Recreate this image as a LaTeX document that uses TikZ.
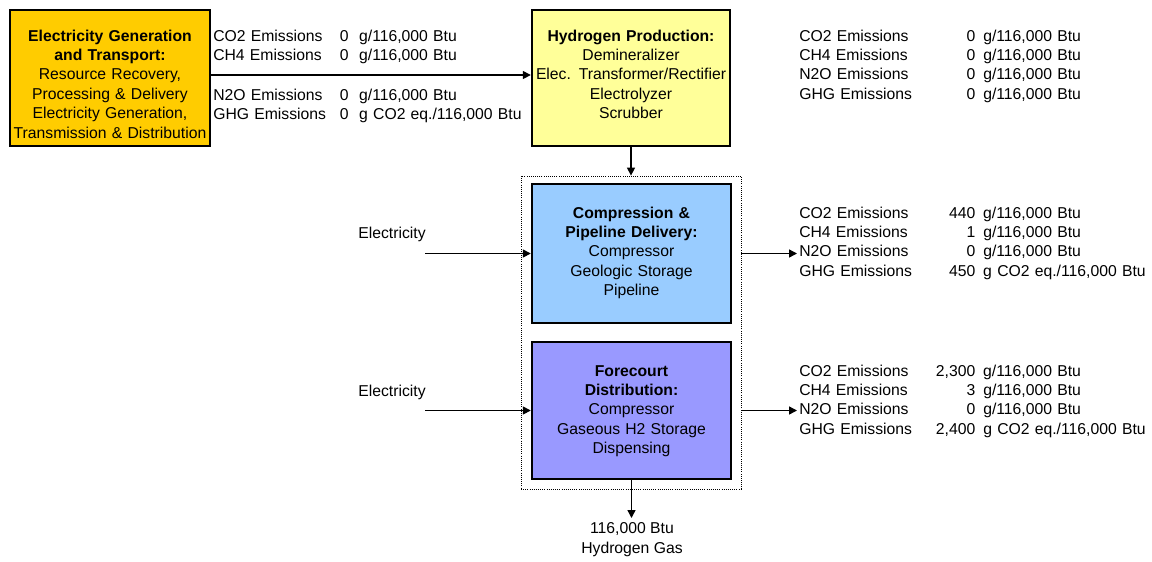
\documentclass[tikz,border=0pt]{standalone}
\usepackage{fontspec}
\setmainfont{Liberation Sans}
\usetikzlibrary{arrows.meta}
\definecolor{genorange}{HTML}{FFCC00}
\definecolor{prodyellow}{HTML}{FFFF99}
\definecolor{pipeblue}{HTML}{99CCFF}
\definecolor{distpurple}{HTML}{9999FF}
\newlength{\emlabw}\setlength{\emlabw}{95pt}
\newlength{\emnumw}\setlength{\emnumw}{37pt}
\newcommand{\emrow}[3]{\makebox[\emlabw][l]{#1}\makebox[\emnumw][r]{#2}\hspace{6pt}#3}
\newcommand{\emzero}[2]{\makebox[95pt][l]{#1}0\ \ #2}
\tikzset{
  stage/.style={draw, line width=1.8pt, inner sep=0pt, align=center, anchor=base, text height=25.5pt, text depth=78.75pt},
  emis/.style={anchor=base west, inner sep=0pt, text width=260pt, align=left},
  flow/.style={-{Triangle[length=6pt,width=6pt]}, line width=1.1pt},
}
\begin{document}
\begin{tikzpicture}[x=0.75pt,y=-0.75pt,font=\fontsize{11.8}{14.6}\selectfont]
\useasboundingbox[fill=white] (0,0) rectangle (1152,561);

% production chain
\node[stage, fill=genorange, text width=150pt, text height=23.25pt] (gen) at (110,41) {\textbf{Electricity Generation}\\\textbf{and Transport:}\\Resource Recovery,\\Processing \& Delivery\\Electricity Generation,\\Transmission \& Distribution};
\node[stage, fill=prodyellow, text width=148.5pt, text height=23.25pt] (prod) at (631,41) {\textbf{Hydrogen Production:}\\Demineralizer\\Elec. Transformer/Rectifier\\Electrolyzer\\Scrubber};
\node[stage, fill=pipeblue, text width=149.25pt] (comp) at (631.5,218) {\textbf{Compression \&}\\\textbf{Pipeline Delivery:}\\Compressor\\Geologic Storage\\Pipeline};
\node[stage, fill=distpurple, text width=149.25pt, text depth=77.25pt] (dist) at (631.5,376) {\textbf{Forecourt}\\\textbf{Distribution:}\\Compressor\\Gaseous H2 Storage\\Dispensing};
\node[draw, densely dotted, line width=0.6pt, minimum width=165pt, minimum height=234.75pt, inner sep=0pt] (chain) at (631,332.5) {};

\draw[flow] ([yshift=2.25pt]gen.east) -- ([yshift=2.25pt]prod.west);
\draw[flow] (prod) -- (chain);

% electricity inputs
\node (elec1) at (392,234) {Electricity};
\coordinate (e1) at (425,253.5);
\draw[flow] (e1) -- (comp.west);
\node (elec2) at (392,392) {Electricity};
\coordinate (e2) at (425,410.5);
\draw[flow] (e2) -- (dist.west);

% emissions
\node[emis] (genem1) at (213,41) {\emzero{CO2 Emissions}{g/116,000 Btu}\\\emzero{CH4 Emissions}{g/116,000 Btu}};
\node[emis] (genem2) at (213,100) {\emzero{N2O Emissions}{g/116,000 Btu}\\\emzero{GHG Emissions}{g CO2 eq./116,000 Btu}};
\node[emis] (prodem) at (799,41) {\emrow{CO2 Emissions}{0}{g/116,000 Btu}\\\emrow{CH4 Emissions}{0}{g/116,000 Btu}\\\emrow{N2O Emissions}{0}{g/116,000 Btu}\\\emrow{GHG Emissions}{0}{g/116,000 Btu}};
\node[emis] (compem) at (799,218) {\emrow{CO2 Emissions}{440}{g/116,000 Btu}\\\emrow{CH4 Emissions}{1}{g/116,000 Btu}\\\emrow{N2O Emissions}{0}{g/116,000 Btu}\\\emrow{GHG Emissions}{450}{g CO2 eq./116,000 Btu}};
\node[emis] (distem) at (799,376) {\emrow{CO2 Emissions}{2,300}{g/116,000 Btu}\\\emrow{CH4 Emissions}{3}{g/116,000 Btu}\\\emrow{N2O Emissions}{0}{g/116,000 Btu}\\\emrow{GHG Emissions}{2,400}{g CO2 eq./116,000 Btu}};
\coordinate (c1) at (797,253.5);
\draw[flow] (chain.east |- comp.west) -- (c1);
\coordinate (c2) at (797,410.5);
\draw[flow] (chain.east |- dist.west) -- (c2);

% output
\coordinate (h2) at (631.5,518);
\draw[flow] (dist.south) -- (h2);
\node[align=center] (h2gas) at (632,539.5) {116,000 Btu\\Hydrogen Gas};
\end{tikzpicture}
\end{document}
